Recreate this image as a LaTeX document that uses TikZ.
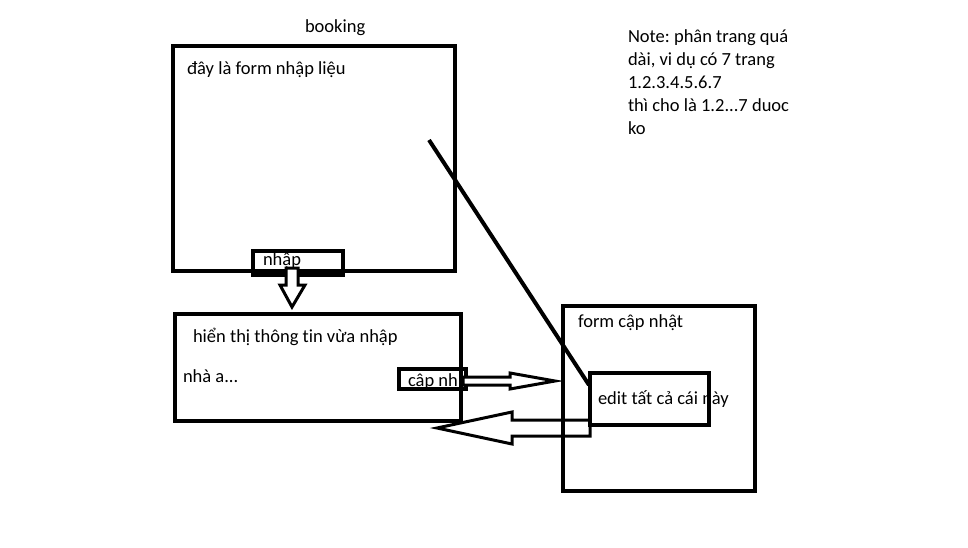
\documentclass[tikz,border=0pt]{standalone}
\usepackage{fontspec}
\setmainfont{Carlito}[Ligatures=NoCommon]
\usetikzlibrary{calc}
\frenchspacing
\begin{document}
\begin{tikzpicture}[x=1pt,y=-1pt,
  box/.style={draw, line width=4pt, inner sep=0pt, outer sep=0pt, anchor=north west},
  txt/.style={anchor=base west, inner sep=0pt, outer sep=0pt, font=\fontsize{18.5}{22.8}\selectfont},
  barrow/.style={draw, line width=3pt, fill=white, line join=miter}]
\useasboundingbox (0,0) rectangle (968,548);
% boxes
\node[box, minimum width=282pt, minimum height=225pt] (form) at (173,46) {};
\node[box, minimum width=90pt, minimum height=24pt] (nhap) at (253,251) {};
\node[box, minimum width=286pt, minimum height=107pt] (show) at (175,314) {};
\node[box, minimum width=67pt, minimum height=20pt] (capbtn) at (399,369) {};
% texts
\node[txt] (tbooking) at (305,33) {booking};
\node[txt] (tform) at (187,75) {đây là form nhập liệu};
\node[txt] (tnhap) at (263,265) {nhập};
\node[txt] (tshow) at (193,342) {hiển thị thông tin vừa nhập};
\node[txt] (tnha) at (183,382) {nhà a...};
\node[txt] (tcap) at (408,386) {câp nh};
\node[txt, align=left, anchor=north west] (note) at (628,30) {Note: phân trang quá\\dài, vi dụ có 7 trang\\1.2.3.4.5.6.7\\thì cho là 1.2...7 duoc\\ko};
% diagonal connector
\coordinate (s1) at (429,140);
\coordinate (s2) at (589,385);
\draw[line width=4pt] (s1) -- (s2);
% down arrow
\coordinate (d1) at (292,268);
\coordinate (d2) at (292,307);
\draw[barrow] ($(d1)+(-6,0)$) -- ($(d1)+(-6,17)$) -- ($(d1)+(-12,17)$) -- (d2) -- ($(d1)+(13,17)$) -- ($(d1)+(6,17)$) -- ($(d1)+(6,0)$) -- cycle;
% right arrow
\coordinate (r1) at (463,381);
\coordinate (r2) at (555,381);
\draw[barrow] ($(r1)+(0,-4)$) -- ($(r1)+(47,-4)$) -- ($(r1)+(47,-8)$) -- (r2) -- ($(r1)+(47,8)$) -- ($(r1)+(47,4)$) -- ($(r1)+(0,4)$) -- cycle;
% left arrow
\coordinate (l1) at (590,428);
\coordinate (l2) at (437,428);
\draw[barrow] ($(l1)+(0,-8)$) -- ($(l1)+(-78,-8)$) -- ($(l1)+(-78,-16)$) -- (l2) -- ($(l1)+(-78,16)$) -- ($(l1)+(-78,8)$) -- ($(l1)+(0,8)$) -- cycle;
% right side boxes
\node[box, minimum width=192pt, minimum height=185pt] (upd) at (563,306) {};
\node[box, minimum width=119pt, minimum height=52pt] (edit) at (590,373) {};
\node[txt] (tupd) at (578,327) {form cập nhật};
\node[txt] (tedit) at (598,404) {edit tất cả cái này};
\end{tikzpicture}
\end{document}
